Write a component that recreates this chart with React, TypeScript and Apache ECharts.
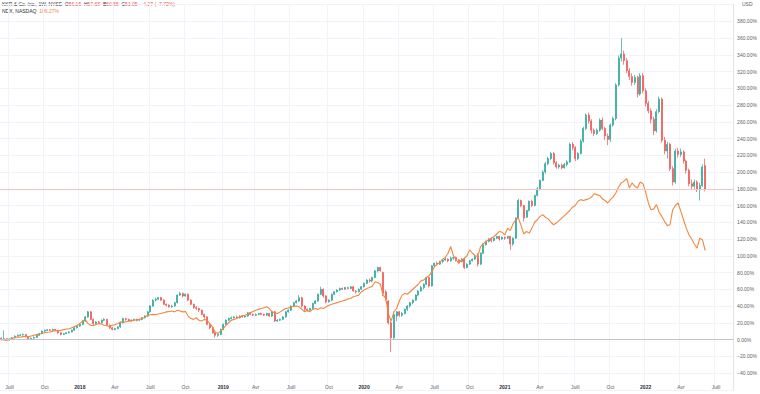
import React, { useEffect, useRef } from "react";
import * as echarts from "echarts";

// Weekly bars, first bar = week of 2017-06-12. Values are % change vs first close.
// KKR candles: [open, close, low, high] in %
const kkr2017: number[][] = [
  [1.5, 0, -1, 2.5], [0, 1, -1, 11], [1, -0.5, -1.5, 1.5], [-0.5, 0.5, -1.5, 1.5], [0.5, 2, 0, 3],
  [2, 4, 1.5, 5], [4, 5, 3.5, 6], [5, 5.5, 4, 6.5], [5.5, 6, 4.5, 7], [6, 3, 2.5, 6.5],
  [3, 1, 0, 3.5], [1, 1.5, -0.5, 2.5], [1.5, 2.5, 1, 3.5], [2.5, 5, 2, 6], [5, 7, 4.5, 8],
  [7, 10, 6.5, 11], [10, 11, 9, 12], [11, 11.5, 10, 12.5], [11.5, 11, 10, 12.5], [11, 12, 10.5, 13],
  [12, 11, 10, 12.5], [11, 8, 7, 11.5], [8, 6, 5, 8.5], [6, 7, 5.5, 8], [7, 8, 6.5, 9],
  [8, 9, 7.5, 10], [9, 11, 8.5, 12], [11, 14, 10.5, 15], [14, 16, 13, 17],
];
const kkr2018: number[][] = [
  [16, 18, 15, 19], [18, 22, 17, 23], [22, 27, 21, 28], [27, 33, 26, 34], [33, 24, 23, 34],
  [24, 19, 17, 25], [19, 21, 18, 22], [21, 20, 18.5, 22], [20, 23, 19, 24], [23, 24, 22, 25.5],
  [24, 17, 16, 25], [17, 14, 12.5, 18], [14, 12, 11, 15], [12, 13, 11, 14], [13, 15, 12, 16],
  [15, 20, 14, 21], [20, 25, 19, 26], [25, 24, 22.5, 26], [24, 22, 21, 25], [22, 23, 21, 24],
  [23, 24, 22, 25], [24, 23, 21.5, 25], [23, 24, 22, 25], [24, 26, 23, 27], [26, 28, 25, 29],
  [28, 33, 27, 34], [33, 40, 32, 41], [40, 47, 39, 48], [47, 48, 45.5, 50], [48, 50, 47, 51],
  [50, 47, 46, 51], [47, 42, 41, 48], [42, 41, 39.5, 43], [41, 39, 38, 42], [39, 40, 38, 41.5],
  [40, 44, 39, 45], [44, 53, 43, 54], [53, 55, 52, 57], [55, 52, 50, 56], [52, 54, 51, 55],
  [54, 47, 46, 55], [47, 42, 41, 48], [42, 38, 37, 43], [38, 37, 35, 40], [37, 35, 33, 38],
  [35, 30, 29, 36], [30, 27, 25, 31], [27, 18, 17, 28], [18, 14, 12, 19], [14, 8, 7, 15],
  [8, 5, 2, 9], [5, 6, 3, 8],
];
const kkr2019: number[][] = [
  [6, 12, 5, 13], [12, 18, 11, 19], [18, 23, 17, 24], [23, 25, 22, 26], [25, 26, 24, 27.5],
  [26, 27, 25, 28], [27, 26, 25, 28.5], [26, 28, 25, 29], [28, 27, 26, 29], [27, 28, 26, 29],
  [28, 32, 27, 33], [32, 30, 29, 33], [30, 29, 28, 31], [29, 30, 28, 31], [30, 31, 29, 32],
  [31, 30, 29, 32], [30, 29, 28, 31], [29, 31, 28, 32], [31, 28, 27, 32], [28, 33, 27, 34],
  [33, 22, 21, 34], [22, 23, 21, 24.5], [23, 24, 22, 25], [24, 27, 23, 28], [27, 33, 26, 34],
  [33, 35, 32, 36], [35, 40, 34, 41], [40, 44, 39, 45], [44, 46, 43, 47], [46, 50, 45, 53],
  [50, 40, 38, 51], [40, 36, 34, 41], [36, 35, 33, 37], [35, 37, 34, 38], [37, 43, 36, 44],
  [43, 46, 42, 47], [46, 54, 45, 55], [54, 60, 53, 63], [60, 52, 50, 61], [52, 45, 43, 53],
  [45, 47, 44, 48], [47, 54, 46, 55], [54, 57, 53, 58], [57, 59, 56, 60], [59, 61, 58, 62],
  [61, 60, 59, 62], [60, 62, 59, 63], [62, 61, 60, 63], [61, 63, 60, 64], [63, 58, 57, 64],
  [58, 57, 55, 59], [57, 60, 56, 61], [60, 63, 59, 64],
];
const kkr2020: number[][] = [
  [63, 67, 62, 68], [67, 71, 66, 72], [71, 70, 68, 73], [70, 74, 68, 75], [74, 82, 73, 83],
  [82, 86, 80, 87], [86, 82, 81, 87], [80, 55, 52, 81], [57, 48, 46, 59], [46, 20, 18, 47],
  [20, 2, -15, 22], [2, 30, 0, 33], [28, 33, 22, 34], [33, 29, 27, 34], [29, 31, 27, 33],
  [31, 36, 30, 37], [36, 40, 34, 41], [40, 44, 38, 45], [44, 47, 42, 48], [47, 53, 46, 54],
  [53, 58, 52, 59], [58, 62, 57, 64], [62, 66, 60, 67], [66, 74, 65, 75], [74, 64, 62, 75],
  [64, 88, 63, 89], [88, 91, 86, 92], [91, 90, 88, 93], [90, 93, 89, 94], [93, 95, 91, 96],
  [95, 96, 94, 98], [96, 94, 92, 97], [94, 97, 93, 99], [97, 98, 95, 99], [98, 95, 93, 99],
  [95, 93, 91, 96], [93, 96, 92, 97], [96, 86, 84, 97], [86, 90, 85, 91], [90, 94, 89, 95],
  [94, 96, 93, 97], [96, 99, 95, 101], [100, 90, 87, 103], [90, 103, 89, 104], [103, 113, 102, 115],
  [113, 117, 112, 118], [117, 120, 116, 121], [120, 118, 116, 122], [118, 121, 117, 122], [121, 123, 120, 124],
  [123, 120, 118, 124], [120, 122, 119, 123],
];
const kkr2021: number[][] = [
  [122, 121, 119, 123], [121, 123, 120, 124], [123, 114, 107, 124], [114, 121, 112, 122], [121, 145, 120, 146],
  [145, 166, 144, 168], [166, 160, 158, 167], [160, 145, 141, 161], [146, 154, 145, 155], [154, 165, 153, 166],
  [165, 160, 158, 167], [160, 172, 159, 173], [172, 180, 171, 182], [180, 190, 178, 191], [190, 200, 189, 202],
  [200, 210, 198, 212], [210, 216, 208, 218], [216, 222, 214, 224], [222, 211, 209, 224], [211, 206, 204, 213],
  [206, 208, 204, 210], [208, 205, 203, 210], [205, 209, 204, 211], [209, 212, 207, 214], [212, 233, 211, 235],
  [233, 229, 226, 236], [229, 216, 213, 231], [216, 222, 214, 224], [222, 237, 221, 239], [237, 252, 235, 254],
  [252, 268, 250, 270], [268, 261, 258, 271], [261, 250, 246, 263], [250, 246, 243, 252], [246, 250, 244, 252],
  [250, 262, 248, 264], [262, 252, 250, 265], [252, 243, 238, 254], [243, 239, 232, 246], [239, 256, 236, 258],
  [256, 264, 254, 266], [264, 304, 262, 306], [304, 336, 302, 339], [336, 341, 332, 360], [341, 333, 328, 345],
  [333, 321, 318, 336], [321, 314, 310, 324], [314, 307, 303, 318], [307, 313, 304, 316], [313, 293, 289, 315],
  [293, 315, 291, 318], [315, 297, 294, 318],
];
const kkr2022: number[][] = [
  [297, 282, 278, 300], [282, 273, 270, 285], [273, 263, 258, 276], [263, 249, 244, 266], [249, 272, 247, 275],
  [272, 287, 270, 290], [287, 238, 235, 289], [238, 225, 221, 242], [225, 233, 216, 236], [233, 204, 201, 235],
  [204, 188, 184, 207], [188, 225, 186, 228], [225, 221, 217, 229], [221, 224, 218, 228], [224, 213, 210, 226],
  [213, 202, 198, 215], [202, 186, 183, 204], [186, 183, 179, 191], [183, 188, 180, 191], [188, 179, 176, 190],
  [179, 184, 166, 187], [184, 206, 182, 209], [207.7, 179.7, 177, 216],
];

// NDX weekly close, % change vs first close
const ndx2017 = [0, -0.5, -0.8, 0.3, 1.2, 2.5, 3, 2.6, 3.4, 3.8, 3.2, 4.2, 5, 5.8, 6.5, 7.2, 8, 8.6, 9, 10, 10.8, 10.2, 11, 11.8, 12.5, 12.5, 14, 15.5, 17];
const ndx2018 = [19, 22, 24, 19, 17, 16.5, 18, 19, 18.5, 17, 16.5, 15.5, 17, 17.5, 19, 21, 20.5, 21, 22, 22.5, 23, 23.5, 24, 25, 26.5, 29, 29.5, 30, 29.5, 30.5, 31, 32, 33, 33.5, 34, 33, 35, 34, 33, 33.5, 28, 25, 24, 26, 23, 22, 24, 23, 19, 15, 9, 7];
const ndx2019 = [10, 13, 17, 20, 23, 24, 25, 27, 28.5, 29, 30, 32, 33.5, 35, 36, 37, 38, 39, 37, 33, 32, 31, 33, 35, 37, 37.5, 39, 39.5, 40, 39, 36, 33, 34.5, 33.5, 36, 37, 36, 38, 37, 39, 41, 42, 43, 44, 45, 46, 47, 48.5, 49, 51, 52, 53, 57];
const ndx2020 = [59, 61, 62, 63.5, 69, 68, 66, 53, 49, 30, 22, 33, 37, 46, 53, 55, 54, 57, 60, 63, 66, 70, 71, 74, 76, 81, 87, 90, 92, 96, 98, 103, 111, 100, 95, 91, 95, 97, 100, 107, 103, 100, 99, 111, 114, 117, 119, 121, 123, 126, 129, 128];
const ndx2021 = [125, 133, 130, 138, 143, 145, 136, 126, 129, 127, 133, 140, 143, 147, 149, 146, 144, 140, 137, 139, 142, 145, 148, 151, 154, 158, 160, 165, 167, 166, 167, 168, 170, 174, 173, 172, 168, 166, 163, 167, 170, 175, 182, 187, 189, 192, 181, 187, 183, 181, 188, 186];
const ndx2022 = [176, 163, 155, 156, 161, 152, 147, 141, 136, 137, 155, 160, 163, 153, 143, 133, 125, 120, 114, 109, 121, 119, 106.27];

const quarterMonthNames: Record<number, string> = { 3: "Avr", 6: "Juill", 9: "Oct" };
const yTickMin = -60;
const yTickMax = 400;
const yTickStep = 20;

const firstWeekUTC = Date.UTC(2017, 5, 12);
const emptyWeeksRight = 10;

const kkr = [...kkr2017, ...kkr2018, ...kkr2019, ...kkr2020, ...kkr2021, ...kkr2022];
const ndx = [...ndx2017, ...ndx2018, ...ndx2019, ...ndx2020, ...ndx2021, ...ndx2022];
const totalWeeks = kkr.length + emptyWeeksRight;
const categories = Array.from({ length: totalWeeks }, (_, i) =>
  new Date(firstWeekUTC + i * 7 * 86400000).toISOString().slice(0, 10)
);

function quarterLabel(value: string): string {
  const d = new Date(value + "T00:00:00Z");
  const m = d.getUTCMonth();
  if (m % 3 !== 0 || d.getUTCDate() > 7) return "";
  return m === 0 ? String(d.getUTCFullYear()) : quarterMonthNames[m];
}

const MINUS = "\u2212";
const fmtPct = (v: number) => (v < 0 ? MINUS + Math.abs(v).toFixed(2) : v.toFixed(2)) + "%";

export default function App() {
  const ref = useRef<HTMLDivElement>(null);
  useEffect(() => {
    const chart = echarts.init(ref.current!, null, { renderer: "svg" });
    const step = 2.724;
    const gridWidth = totalWeeks * step;
    const lastClose = kkr[kkr.length - 1][1];
    const font = "Liberation Sans, Arial, sans-serif";
    const fs = 5;
    chart.setOption({
      animation: false,
      backgroundColor: "#ffffff",
      textStyle: { fontFamily: font },
      grid: { left: 0, width: gridWidth, top: 4.5, bottom: 4.25, containLabel: false },
      xAxis: {
        type: "category",
        data: categories,
        boundaryGap: true,
        offset: -7.5,
        axisLine: { show: true, lineStyle: { color: "#e0e3eb", width: 1 } },
        axisTick: { show: false },
        axisLabel: {
          interval: (_i: number, v: string) => quarterLabel(v) !== "",
          formatter: (v: string) => {
            const t = quarterLabel(v);
            return /^\d{4}$/.test(t) ? "{y|" + t + "}" : t;
          },
          fontSize: fs,
          color: "#5d606b",
          margin: 2.5,
          fontFamily: font,
          rich: { y: { fontSize: fs, color: "#2a2e39", fontWeight: "bold", fontFamily: font } },
        },
        splitLine: {
          show: true,
          interval: (_i: number, v: string) => quarterLabel(v) !== "",
          lineStyle: { color: "#f0f3fa", width: 1 },
        },
      },
      yAxis: {
        type: "value",
        position: "right",
        min: yTickMin,
        max: yTickMax,
        interval: yTickStep,
        axisLine: { show: true, lineStyle: { color: "#e0e3eb", width: 1 } },
        axisTick: { show: false },
        splitLine: { show: true, lineStyle: { color: "#f0f3fa", width: 1 } },
        axisLabel: {
          fontSize: fs,
          color: "#5d606b",
          margin: 3.5,
          fontFamily: font,
          formatter: (v: number) => (v <= yTickMin || v >= yTickMax ? "" : fmtPct(v)),
        },
      },
      series: [
        {
          type: "candlestick",
          data: kkr,
          barWidth: 1.5,
          itemStyle: {
            color: "#26a69a",
            color0: "#ef5350",
            borderColor: "#26a69a",
            borderColor0: "#ef5350",
            borderWidth: 0.7,
          },
          markLine: {
            silent: true,
            symbol: "none",
            label: { show: false },
            animation: false,
            data: [
              { yAxis: 0, lineStyle: { color: "#c3c5cb", type: "solid", width: 1 } },
              { yAxis: lastClose, lineStyle: { color: "#f7c4c2", type: "solid", width: 1 } },
            ],
          },
          z: 2,
        },
        {
          type: "line",
          data: ndx,
          showSymbol: false,
          symbol: "none",
          lineStyle: { color: "#f0883e", width: 1.1 },
          z: 3,
        },
      ],
      graphic: [
        {
          type: "text",
          x: 2,
          y: 1.5,
          style: {
            text:
              "{n|KKR & Co. Inc., 1W, NYSE}  {l|O}{v|56.15}  {l|H}{v|57.68}  {l|B}{v|50.55}  {l|C}{v|51.05}  {v|" +
              MINUS + "4.27 (" + MINUS + "7.72%)}",
            fontSize: fs,
            fontFamily: font,
            rich: {
              n: { fill: "#2a2e39", fontSize: fs, fontFamily: font },
              l: { fill: "#2a2e39", fontSize: fs, fontFamily: font },
              v: { fill: "#ef5350", fontSize: fs, fontFamily: font },
            },
          },
        },
        {
          type: "text",
          x: 2,
          y: 8.5,
          style: {
            text: "{n|NDX, NASDAQ}  {o|106.27%}",
            fontSize: fs,
            fontFamily: font,
            rich: {
              n: { fill: "#2a2e39", fontSize: fs, fontFamily: font },
              o: { fill: "#f0883e", fontSize: fs, fontFamily: font },
            },
          },
        },
        {
          type: "text",
          x: 742,
          y: 1.5,
          style: { text: "USD", fill: "#5d606b", fontSize: fs, fontFamily: font },
        },
      ],
    });
    return () => chart.dispose();
  }, []);
  return (
    <div
      ref={ref}
      style={{ position: "fixed", left: 0, top: 0, width: 760, height: 394, background: "#fff" }}
    />
  );
}
